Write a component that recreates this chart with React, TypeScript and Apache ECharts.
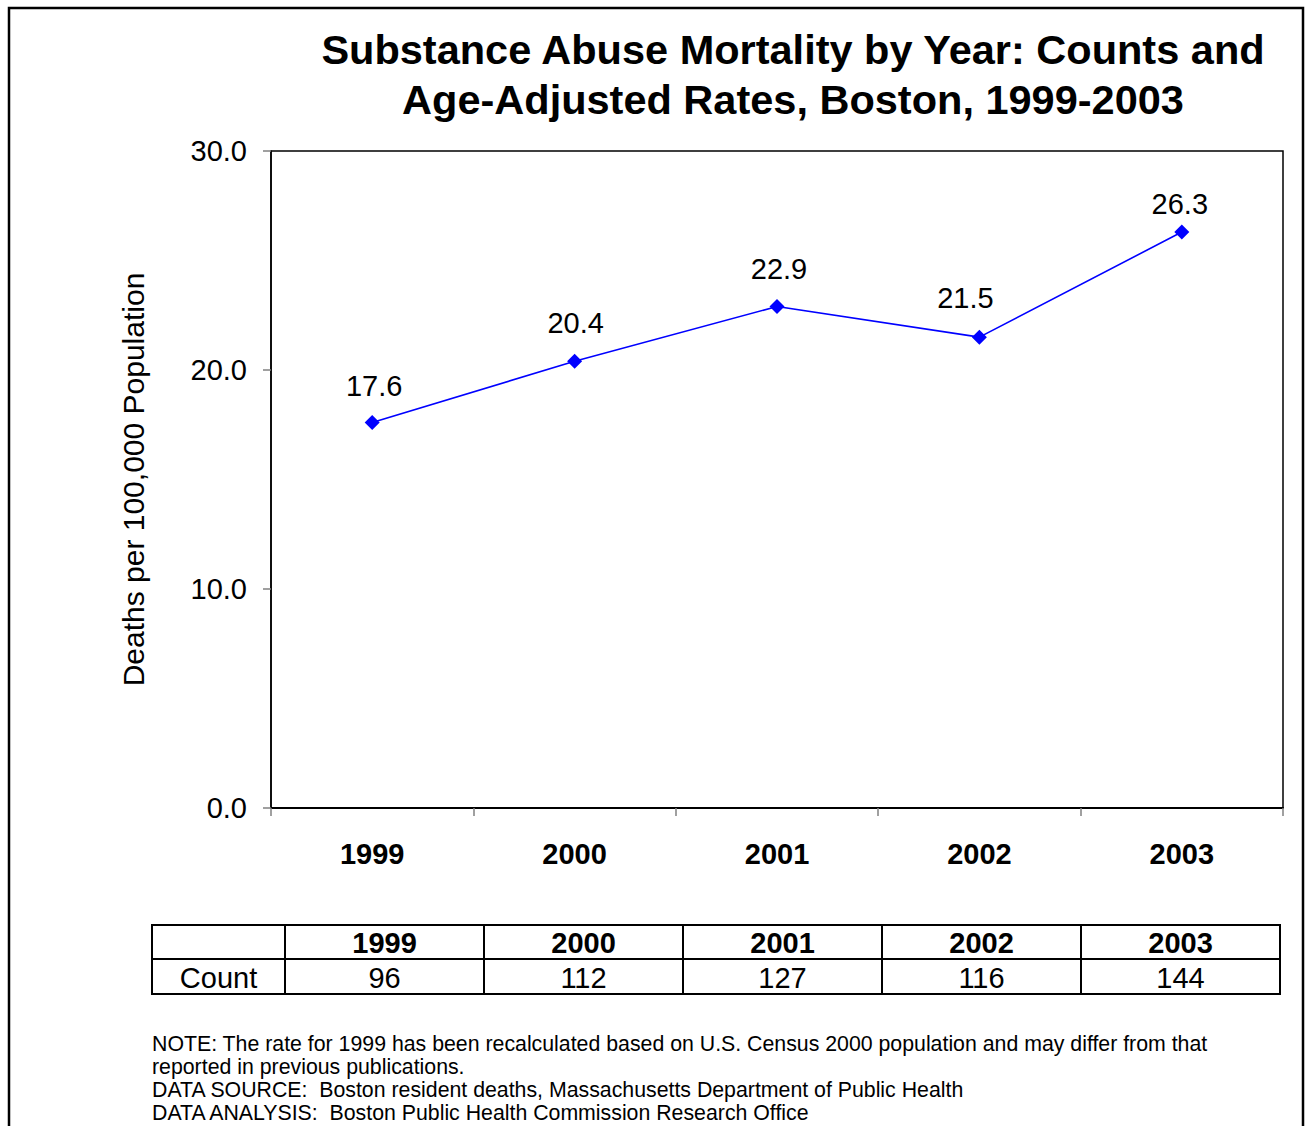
import React, { useEffect, useRef } from "react";
import * as echarts from "echarts";

const years = ["1999", "2000", "2001", "2002", "2003"];
const rates = [17.6, 20.4, 22.9, 21.5, 26.3];
const counts = [96, 112, 127, 116, 144];
const titleLines = [
  "Substance Abuse Mortality by Year: Counts and",
  "Age-Adjusted Rates, Boston, 1999-2003",
];
const yAxisName = "Deaths per 100,000 Population";
const countLabel = "Count";
const notes = [
  "NOTE: The rate for 1999 has been recalculated based on U.S. Census 2000 population and may differ from that",
  "reported in previous publications.",
  "DATA SOURCE:  Boston resident deaths, Massachusetts Department of Public Health",
  "DATA ANALYSIS:  Boston Public Health Commission Research Office",
];
// manual label nudges (as placed in the original)
const labelOffsets = [
  [2, 0],
  [1, -1],
  [2, 0],
  [-14, -2],
  [-2, 9],
];

const FONT = "'Liberation Sans', Arial, sans-serif";

export default function App() {
  const ref = useRef<HTMLDivElement>(null);
  useEffect(() => {
    if (!ref.current) return;
    const chart = echarts.init(ref.current, undefined, { renderer: "svg" });

    const graphics: any[] = [];
    graphics.push({
      type: "rect",
      shape: { x: 9, y: 8, width: 1294, height: 1200 },
      style: { fill: "none", stroke: "#000", lineWidth: 2.5 },
      silent: true,
    });
    titleLines.forEach((t, i) => {
      graphics.push({
        type: "text",
        x: 793,
        y: 49 + i * 50,
        style: {
          text: t,
          font: `bold 41.5px ${FONT}`,
          fill: "#000",
          textAlign: "center",
          textVerticalAlign: "middle",
        },
      });
    });
    const colX = [152, 285, 484, 683, 882, 1081, 1280];
    const rowY = [925, 959, 994];
    const tStroke = { stroke: "#000", lineWidth: 2 };
    rowY.forEach((y) => {
      graphics.push({
        type: "line",
        shape: { x1: colX[0] - 1, y1: y, x2: colX[colX.length - 1] + 1, y2: y },
        style: tStroke,
      });
    });
    colX.forEach((x) => {
      graphics.push({
        type: "line",
        shape: { x1: x, y1: rowY[0], x2: x, y2: rowY[2] },
        style: tStroke,
      });
    });
    const cellText = (text: string, col: number, row: number, bold: boolean) => ({
      type: "text",
      x: (colX[col] + colX[col + 1]) / 2,
      y: (rowY[row] + rowY[row + 1]) / 2 + 1,
      style: {
        text,
        font: `${bold ? "bold " : ""}29px ${FONT}`,
        fill: "#000",
        textAlign: "center",
        textVerticalAlign: "middle",
      },
    });
    years.forEach((y, i) => graphics.push(cellText(y, i + 1, 0, true)));
    graphics.push(cellText(countLabel, 0, 1, false));
    counts.forEach((c, i) => graphics.push(cellText(String(c), i + 1, 1, false)));
    notes.forEach((n, i) => {
      graphics.push({
        type: "text",
        x: 152,
        y: 1043.5 + i * 23.2,
        style: {
          text: n,
          font: `21.3px ${FONT}`,
          fill: "#000",
          textAlign: "left",
          textVerticalAlign: "middle",
        },
      });
    });

    chart.setOption({
      animation: false,
      backgroundColor: "#fff",
      grid: {
        left: 271,
        top: 151,
        width: 1012,
        height: 657,
        show: true,
        borderColor: "#000",
        borderWidth: 1.5,
        backgroundColor: "transparent",
      },
      xAxis: {
        type: "category",
        data: years,
        boundaryGap: true,
        axisLine: { show: true, lineStyle: { color: "#000", width: 2 } },
        axisTick: {
          show: true,
          inside: false,
          length: 8,
          lineStyle: { color: "#808080", width: 1.5 },
        },
        axisLabel: {
          fontFamily: FONT,
          fontSize: 29,
          fontWeight: "bold",
          color: "#000",
          margin: 31,
        },
        splitLine: { show: false },
      },
      yAxis: {
        type: "value",
        min: 0,
        max: 30,
        interval: 10,
        name: yAxisName,
        nameLocation: "middle",
        nameRotate: 90,
        nameGap: 123,
        nameTextStyle: { fontFamily: FONT, fontSize: 30, color: "#000" },
        axisLine: { show: true, lineStyle: { color: "#000", width: 1.5 } },
        axisTick: {
          show: true,
          inside: false,
          length: 8,
          lineStyle: { color: "#808080", width: 1.5 },
        },
        axisLabel: {
          fontFamily: FONT,
          fontSize: 29,
          color: "#000",
          margin: 24,
          formatter: (v: number) => v.toFixed(1),
        },
        splitLine: { show: false },
      },
      series: [
        {
          type: "line",
          data: rates.map((v, i) => ({
            value: v,
            label: { offset: labelOffsets[i] },
          })),
          symbol: "diamond",
          symbolSize: 15,
          lineStyle: { color: "#0000FF", width: 1.6 },
          itemStyle: { color: "#0000FF" },
          label: {
            show: true,
            position: "top",
            distance: 15,
            fontFamily: FONT,
            fontSize: 29,
            color: "#000",
            formatter: (p: any) => Number(p.value).toFixed(1),
          },
        },
      ],
      graphic: graphics,
    });
    return () => chart.dispose();
  }, []);
  return (
    <div
      ref={ref}
      style={{ position: "fixed", left: 0, top: 0, width: 1310, height: 1126 }}
    />
  );
}
